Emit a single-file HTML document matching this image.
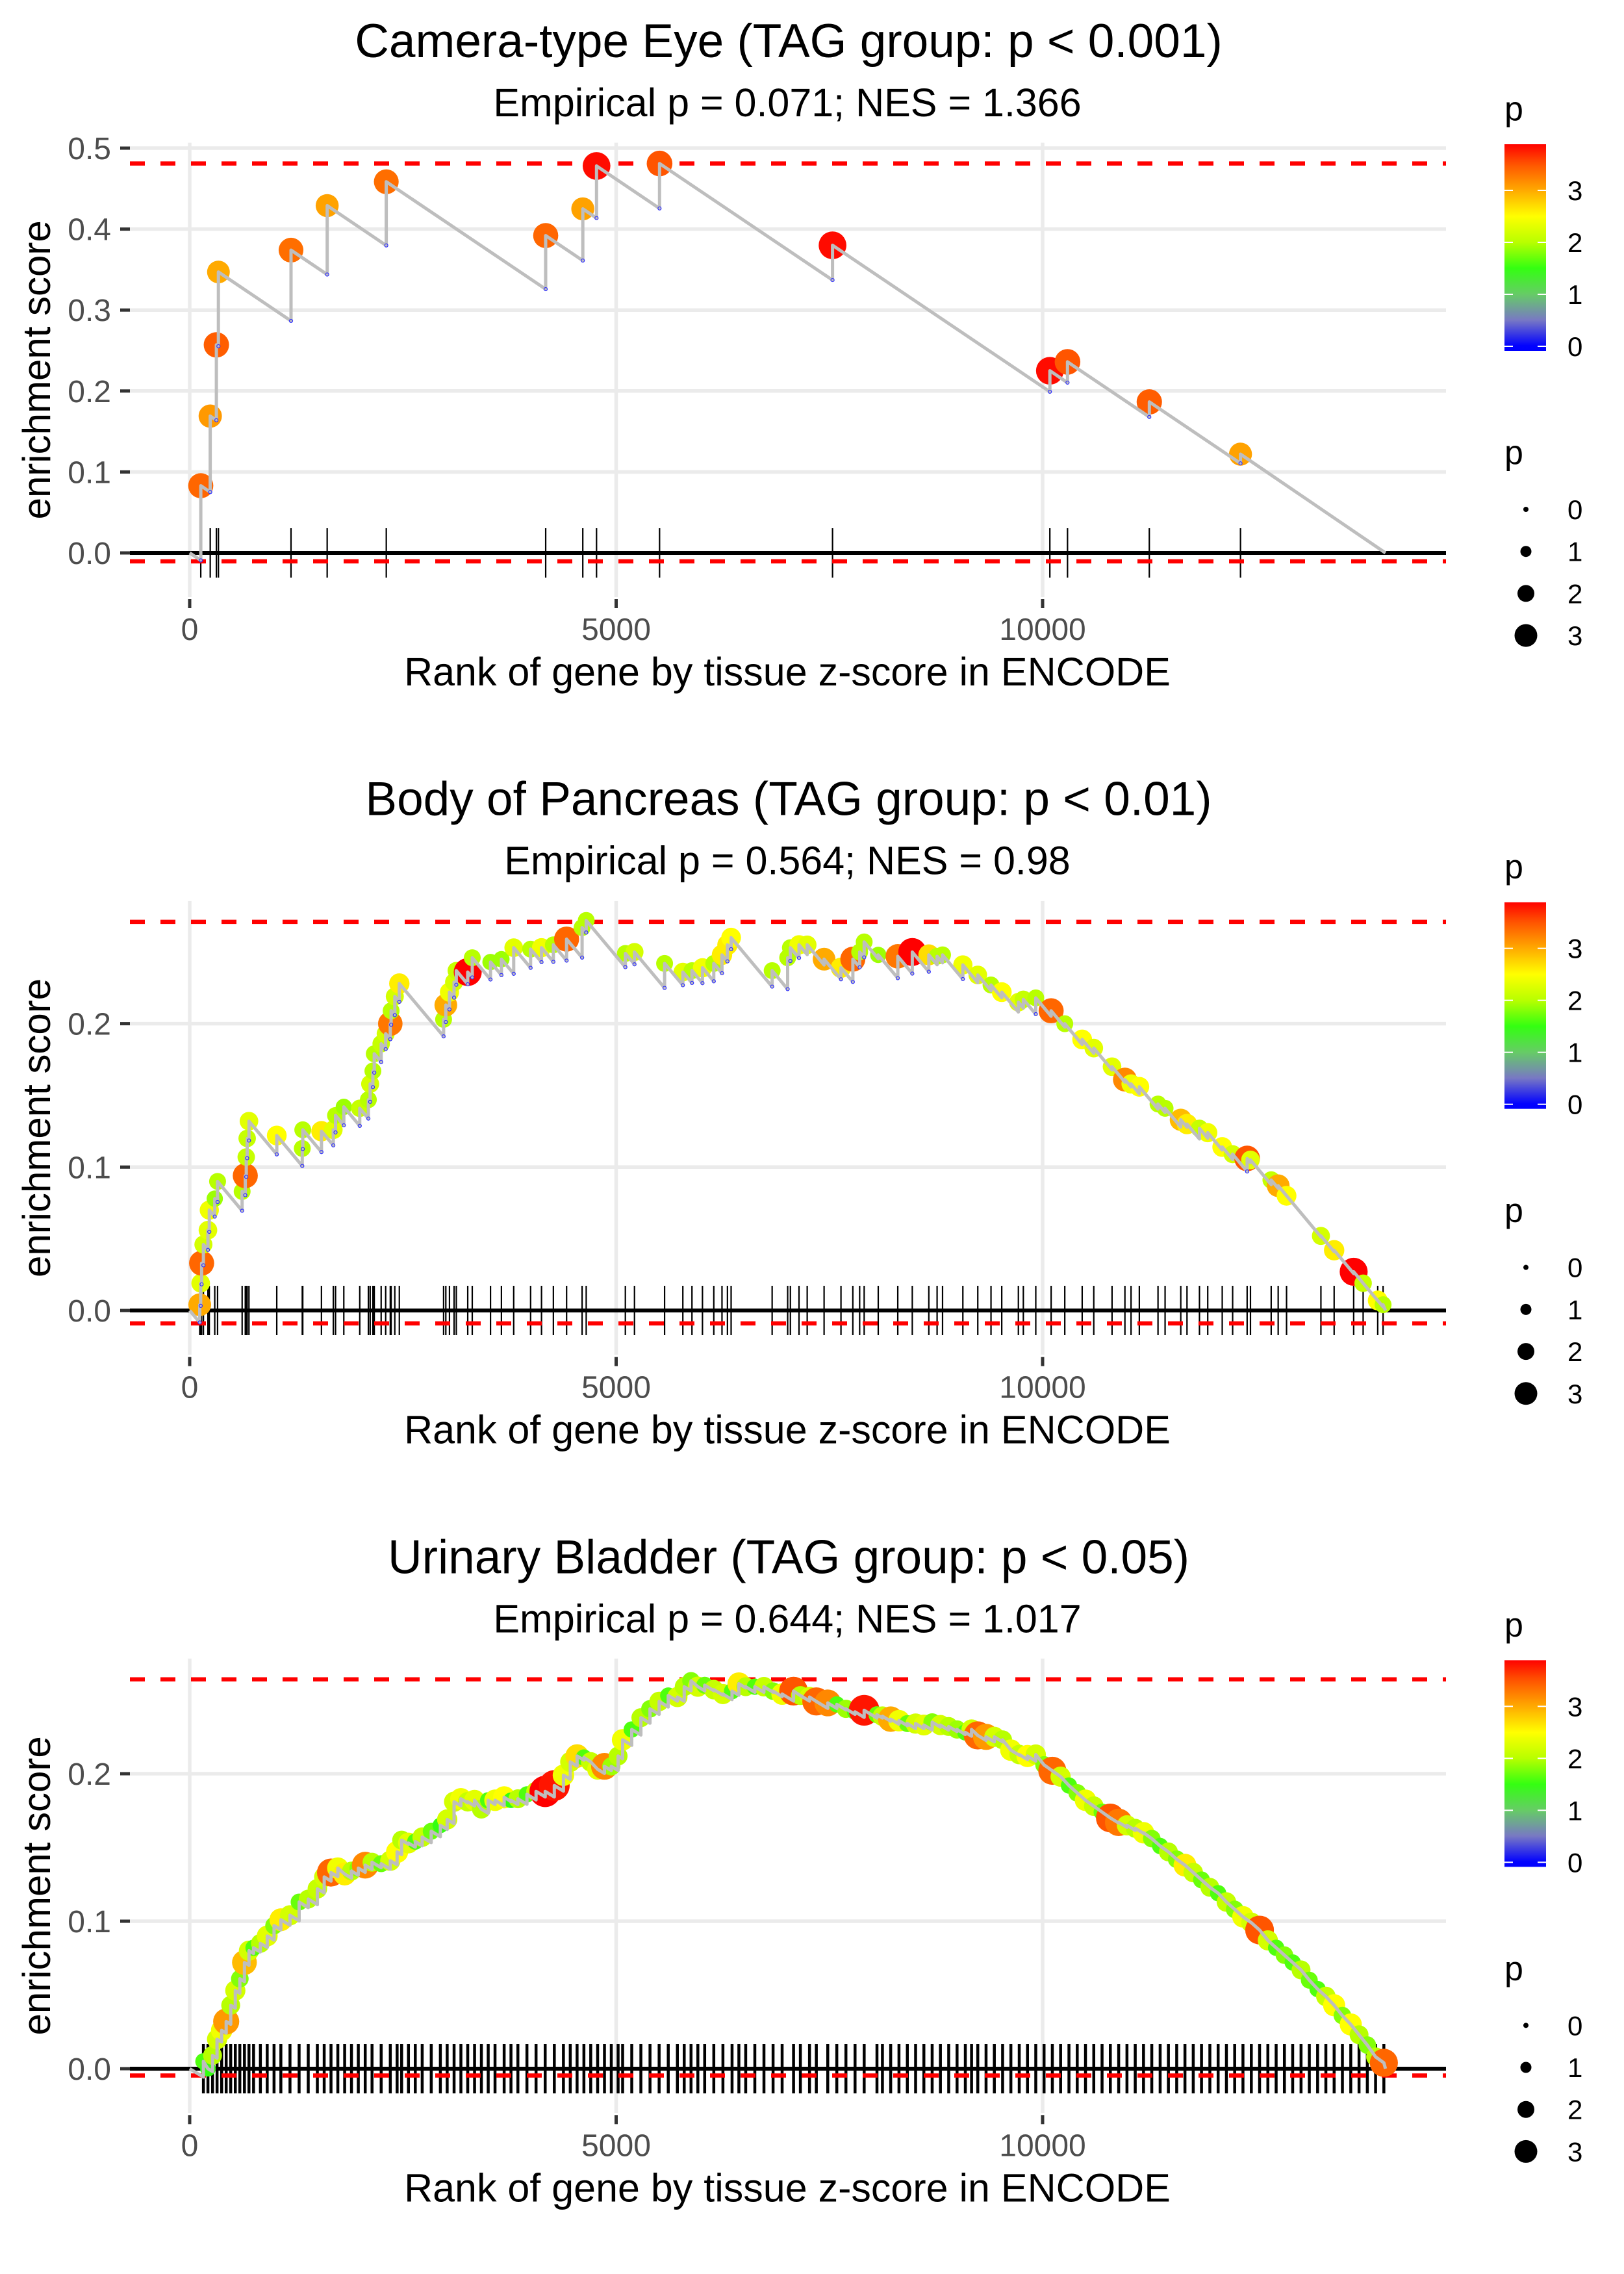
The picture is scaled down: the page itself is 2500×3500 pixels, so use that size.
<!DOCTYPE html>
<html><head><meta charset="utf-8"><style>
html,body{margin:0;padding:0;background:#fff;}
svg{display:block;font-family:"Liberation Sans",sans-serif;}
</style></head><body>
<svg id="chart" width="2500" height="3500" viewBox="0 0 2500 3500" xmlns="http://www.w3.org/2000/svg"></svg>
<script>
// ---------- data ----------
const panelTitles = ["Camera-type Eye (TAG group: p < 0.001)","Body of Pancreas (TAG group: p < 0.01)","Urinary Bladder (TAG group: p < 0.05)"];
const panelSubtitles = ["Empirical p = 0.071; NES = 1.366","Empirical p = 0.564; NES = 0.98","Empirical p = 0.644; NES = 1.017"];
const xTicks = [0,5000,10000];
const yTicks1 = [0,0.1,0.2,0.3,0.4,0.5];
const yTicks2 = [0,0.1,0.2];
const yTicks3 = [0,0.1,0.2];
const dashTop = [0.481,0.271,0.264];
const dashBottom = [-0.0104,-0.009,-0.0046];
const colorTicks = [0,1,2,3];
const sizeTicks = [0,1,2,3];
const totalGenes = 14020;
const stepDown = [7.1e-5, 7.1e-5, 3.5e-5];

const ranks1 = [130,241,313,337,1188,1612,2305,4174,4609,4770,5509,7537,10085,10292,11251,12320];
const es1 = [0.083,0.169,0.257,0.347,0.374,0.429,0.4585,0.392,0.425,0.478,0.481,0.380,0.225,0.236,0.1865,0.122];
const p1 = [3.4,3.1,3.45,3.0,3.35,3.05,3.35,3.4,3.05,3.85,3.5,3.85,3.85,3.5,3.45,3.05];

const ranks2 = [118,129,140,161,214,230,294,327,615,652,663,674,695,1021,1320,1326,1545,1684,1710,1807,1994,2095,2116,2148,2164,2245,2298,2352,2362,2405,2458,2977,3003,3046,3100,3126,3260,3313,3527,3655,3799,3997,4125,4264,4419,4601,4649,5108,5215,5568,5782,5889,6012,6145,6241,6305,6348,6829,7011,7043,7144,7240,7438,7636,7775,7855,7908,8073,8302,8472,8666,8763,8827,9065,9240,9395,9521,9716,9774,9920,10100,10260,10464,10600,10814,10965,11037,11134,11353,11436,11620,11693,11839,11936,12106,12228,12398,12437,12680,12762,12860,13263,13418,13647,13758,13929,13992];
const es2 = [0.004,0.019,0.033,0.046,0.056,0.070,0.078,0.090,0.083,0.094,0.107,0.120,0.132,0.122,0.113,0.126,0.125,0.126,0.136,0.142,0.141,0.147,0.158,0.167,0.179,0.186,0.193,0.200,0.209,0.219,0.228,0.203,0.213,0.222,0.229,0.237,0.236,0.246,0.243,0.245,0.253,0.252,0.253,0.255,0.259,0.267,0.272,0.249,0.250,0.242,0.236,0.237,0.239,0.242,0.248,0.255,0.260,0.237,0.246,0.253,0.255,0.255,0.245,0.239,0.245,0.250,0.257,0.248,0.247,0.250,0.248,0.247,0.248,0.241,0.234,0.227,0.222,0.215,0.217,0.218,0.209,0.200,0.189,0.183,0.170,0.161,0.158,0.156,0.144,0.141,0.133,0.130,0.127,0.124,0.114,0.109,0.106,0.105,0.091,0.087,0.080,0.052,0.042,0.027,0.019,0.007,0.004];
const p2 = [3.0,2.3,3.4,2.2,2.3,2.4,1.9,2.0,2.0,3.4,2.1,2.1,2.3,2.5,2.0,2.0,2.6,2.3,2.0,1.9,2.1,2.0,2.2,2.0,2.0,2.1,2.2,3.3,2.0,2.2,2.6,2.0,3.0,2.4,2.2,2.1,3.9,2.0,1.9,1.9,2.3,2.0,2.4,2.0,3.4,2.0,2.0,2.0,2.2,2.0,2.3,2.0,2.4,2.0,2.6,2.6,2.5,2.0,2.0,2.0,2.4,2.3,3.0,2.6,3.4,2.0,2.0,1.9,3.3,3.9,2.7,2.0,2.0,2.4,2.3,2.0,2.5,2.3,2.1,2.0,3.4,2.0,2.5,2.3,2.3,3.2,2.4,2.5,2.0,2.0,2.9,2.6,2.1,2.4,2.5,2.2,3.5,2.3,2.1,3.0,2.5,2.2,2.6,3.9,2.1,2.5,2.0];

const ranks3 = [161,214,268,321,375,428,481,535,588,642,695,749,829,909,989,1069,1176,1283,1390,1497,1577,1657,1737,1817,1897,1977,2058,2138,2245,2352,2432,2485,2565,2645,2726,2832,2939,3019,3100,3180,3260,3340,3420,3500,3580,3687,3767,3848,3954,4061,4168,4275,4382,4462,4542,4622,4702,4783,4863,4943,5023,5076,5183,5290,5397,5504,5611,5718,5798,5878,5958,6038,6145,6252,6359,6439,6519,6626,6733,6840,6946,7080,7160,7267,7347,7481,7587,7694,7801,7908,8058,8122,8219,8316,8414,8511,8608,8705,8802,8899,8997,9094,9167,9240,9337,9434,9531,9628,9726,9823,9920,10017,10114,10211,10309,10406,10503,10600,10697,10794,10892,10989,11086,11183,11280,11378,11475,11572,11669,11766,11863,11961,12058,12155,12252,12349,12447,12544,12641,12738,12835,12932,13030,13127,13224,13321,13418,13515,13613,13710,13807,13904,14001];
const es3 = [0.005,0.000,0.009,0.020,0.026,0.032,0.043,0.053,0.061,0.072,0.080,0.082,0.085,0.090,0.097,0.101,0.104,0.113,0.115,0.122,0.130,0.133,0.136,0.132,0.134,0.136,0.138,0.140,0.139,0.141,0.147,0.155,0.153,0.154,0.157,0.161,0.165,0.169,0.181,0.183,0.181,0.182,0.176,0.182,0.182,0.184,0.182,0.183,0.186,0.188,0.188,0.192,0.199,0.208,0.212,0.211,0.208,0.203,0.205,0.205,0.212,0.223,0.230,0.238,0.244,0.249,0.253,0.252,0.259,0.263,0.259,0.260,0.257,0.254,0.256,0.261,0.259,0.259,0.259,0.256,0.254,0.256,0.253,0.252,0.249,0.248,0.247,0.244,0.242,0.243,0.240,0.239,0.237,0.236,0.234,0.234,0.233,0.235,0.233,0.232,0.230,0.228,0.230,0.226,0.225,0.225,0.223,0.216,0.213,0.212,0.213,0.206,0.202,0.198,0.192,0.187,0.182,0.178,0.174,0.170,0.167,0.165,0.163,0.160,0.156,0.151,0.147,0.142,0.138,0.133,0.128,0.123,0.119,0.113,0.108,0.103,0.099,0.094,0.087,0.082,0.077,0.072,0.067,0.060,0.054,0.049,0.043,0.036,0.030,0.023,0.016,0.008,0.004];
const p3 = [1.6,1.5,2.0,2.2,2.4,3.1,2.0,2.2,1.8,2.9,2.2,1.6,2.0,2.3,1.8,2.6,2.2,1.7,2.0,2.1,2.2,3.4,2.4,2.6,2.0,1.8,3.2,2.0,1.7,2.2,2.5,2.0,2.3,1.6,2.1,1.7,1.5,2.2,2.2,2.4,2.1,2.3,2.0,1.6,2.4,2.5,1.5,2.0,1.6,2.1,3.9,3.8,2.4,2.2,2.7,1.6,2.1,2.3,3.2,1.9,2.0,2.4,1.6,2.0,1.8,2.1,1.6,2.2,2.0,1.8,2.2,1.7,2.1,2.2,1.6,2.6,2.0,1.6,2.1,1.8,2.4,3.5,2.0,2.2,3.4,3.2,1.6,1.9,1.6,3.8,1.7,2.1,3.0,2.4,1.7,2.2,2.3,1.8,2.2,2.0,1.9,1.6,2.2,3.4,3.1,2.2,2.0,2.4,2.1,2.5,2.2,1.8,3.4,2.2,1.6,1.8,2.4,2.1,1.7,3.5,3.3,2.2,2.0,2.4,1.8,1.6,2.0,1.8,2.6,2.1,1.7,2.0,1.6,2.1,1.8,2.4,2.2,3.5,2.2,1.6,1.8,1.6,2.0,1.7,1.6,2.1,2.5,1.8,2.5,2.0,1.8,2.0,3.4];

const colorStops = [[0,'#0000ff'],[0.5,'#7878c4'],[1.0,'#66cc66'],[1.5,'#33ff11'],[2.0,'#b8ff00'],[2.5,'#ffff00'],[3.0,'#ffaa00'],[3.5,'#ff5500'],[3.9,'#ff0000']];

// ---------- layout ----------
const NS = 'http://www.w3.org/2000/svg';
const svg = document.getElementById('chart');
const PANEL_H = 3500/3;
const X0 = 292, XK = 0.1313, LEFT = 200, RIGHT = 2226;
const zeroY = [851, 2017, 3184];
const yK = [1246, 2207, 2270];
const rugWidth = [2.2, 2.2, 4.5];
const pointScale = [1, 1, 1.12];
const yTicksAll = [yTicks1, yTicks2, yTicks3];
const ranksAll = [ranks1, ranks2, ranks3];
const esAll = [es1, es2, es3];
const pAll = [p1, p2, p3];

function el(tag, attrs, parent){ const e=document.createElementNS(NS,tag); for(const k in attrs) e.setAttribute(k,attrs[k]); (parent||svg).appendChild(e); return e; }
function hex(c){return [parseInt(c.substr(1,2),16),parseInt(c.substr(3,2),16),parseInt(c.substr(5,2),16)];}
function colorOf(v){
  if(v<=colorStops[0][0]) return colorStops[0][1];
  for(let i=1;i<colorStops.length;i++){
    if(v<=colorStops[i][0]){
      const a=colorStops[i-1], b=colorStops[i]; const t=(v-a[0])/(b[0]-a[0]);
      const ca=hex(a[1]), cb=hex(b[1]);
      return 'rgb('+ca.map((x,j)=>Math.round(x+(cb[j]-x)*t)).join(',')+')';
    }
  }
  return colorStops[colorStops.length-1][1];
}
function radiusOf(v){ return 4 + 4.5*Math.max(0,v); }
const xScale = r => X0 + r*XK;

const defs = el('defs',{});
const grad = el('linearGradient',{id:'cbar',x1:'0',y1:'1',x2:'0',y2:'0'},defs);
for(let i=0;i<=40;i++){ const v=-0.09+(3.89+0.09)*i/40; el('stop',{offset:(i/40).toFixed(3),'stop-color':colorOf(v)},grad); }

for(let pi=0; pi<3; pi++){
  const oy = pi*PANEL_H;
  const Y = v => zeroY[pi] - v*yK[pi];
  const top = Y(dashTop[pi]) - 32, bottom = zeroY[pi] + 68;
  const g = el('g',{});
  
  

  const t = el('text',{x:1214,y:oy+88,'font-size':73,'text-anchor':'middle',fill:'#000'},g);
  t.textContent = panelTitles[pi];
   
  const st = el('text',{x:1212,y:oy+179,'font-size':61,'text-anchor':'middle',fill:'#000'},g);
  st.textContent = panelSubtitles[pi];
   

  yTicksAll[pi].forEach(v=>{
    const gl = el('line',{x1:LEFT,x2:RIGHT,y1:Y(v),y2:Y(v),stroke:'#ebebeb','stroke-width':5.5},g);
     
    const tk = el('line',{x1:185,x2:200,y1:Y(v),y2:Y(v),stroke:'#333','stroke-width':5},g);
     
    const tl = el('text',{x:171,y:Y(v)+17,'font-size':48,'text-anchor':'end',fill:'#4d4d4d'},g);
    tl.textContent = v.toFixed(1);
     
  });
  xTicks.forEach(v=>{
    const gl = el('line',{x1:xScale(v),x2:xScale(v),y1:top,y2:bottom,stroke:'#ebebeb','stroke-width':5.5},g);
     
    const tk = el('line',{x1:xScale(v),x2:xScale(v),y1:oy+922,y2:oy+936,stroke:'#333','stroke-width':5},g);
     
    const tl = el('text',{x:xScale(v),y:oy+985,'font-size':48,'text-anchor':'middle',fill:'#4d4d4d'},g);
    tl.textContent = String(v);
     
  });

  const xt = el('text',{x:1212,y:oy+1055,'font-size':61,'text-anchor':'middle',fill:'#000'},g);
  xt.textContent = 'Rank of gene by tissue z-score in ENCODE';
   
  const ymid = (top+bottom)/2;
  const yt = el('text',{x:0,y:0,'font-size':60,'text-anchor':'middle',fill:'#000',transform:'translate(77,'+ymid+') rotate(-90)'},g);
  yt.textContent = 'enrichment score';
   

  const ranks = ranksAll[pi], es = esAll[pi], ps = pAll[pi];
  const n = Math.min(ranks.length, es.length, ps.length);

  for(let i=0;i<n;i++){
    const r = el('line',{x1:xScale(ranks[i]),x2:xScale(ranks[i]),y1:zeroY[pi]-38,y2:zeroY[pi]+38,stroke:'#000','stroke-width':rugWidth[pi]},g);
     
  }
  const zl = el('line',{x1:LEFT,x2:RIGHT,y1:zeroY[pi],y2:zeroY[pi],stroke:'#000','stroke-width':6},g);
   
  [dashTop[pi],dashBottom[pi]].forEach((v,k)=>{
    const dl = el('line',{x1:LEFT,x2:RIGHT,y1:Y(v),y2:Y(v),stroke:'#ff0000','stroke-width':6.5,'stroke-dasharray':'23 24'},g);
     
  });

  for(let i=0;i<n;i++){
    const c = el('circle',{cx:xScale(ranks[i]),cy:Y(es[i]),r:radiusOf(ps[i])*pointScale[pi],fill:colorOf(ps[i])},g);
     
  }
  let pts = [[0,0]]; let prevR = 0, prevE = 0; const valleys = [];
  for(let i=0;i<n;i++){
    let v = prevE - stepDown[pi]*(ranks[i]-prevR);
    if(v > es[i]) v = es[i];
    pts.push([ranks[i],v]);
    if(es[i]-v > 0.008) valleys.push([ranks[i],v]);
    pts.push([ranks[i],es[i]]);
    prevR = ranks[i]; prevE = es[i];
  }
  pts.push([totalGenes,0]);
  const pl = el('polyline',{points:pts.map(q=>xScale(q[0]).toFixed(1)+','+Y(q[1]).toFixed(1)).join(' '),fill:'none',stroke:'#bebebe','stroke-width':5,'stroke-linejoin':'round'},g);
   
  if(pi<2){
    valleys.forEach(q=>{
      const c = el('circle',{cx:xScale(q[0]),cy:Y(q[1]),r:2.5,fill:'none',stroke:'#3030ff','stroke-width':1.2},g);
       
    });
  }

  const lg = el('g',{},g);
   
  const lt = el('text',{x:2316,y:oy+185,'font-size':52,fill:'#000'},lg); lt.textContent='p';
   
  const cb = el('rect',{x:2316,y:oy+222,width:64,height:318,fill:'url(#cbar)'},lg);
   
  colorTicks.forEach(v=>{
    const yy = oy+533-80*v;
    el('line',{x1:2316,x2:2329,y1:yy,y2:yy,stroke:'#fff','stroke-width':2},lg);
    el('line',{x1:2367,x2:2380,y1:yy,y2:yy,stroke:'#fff','stroke-width':2},lg);
    const tl = el('text',{x:2413,y:yy+15,'font-size':42,fill:'#000'},lg); tl.textContent=String(v);
     
  });
  const sg = el('g',{},g);
   
  const s2 = el('text',{x:2316,y:oy+714,'font-size':52,fill:'#000'},sg); s2.textContent='p';
   
  sizeTicks.forEach((v,k)=>{
    const yy = oy+784+k*64.7;
    const c = el('circle',{cx:2349,cy:yy,r:radiusOf(v),fill:'#000'},sg);
     
    const tl = el('text',{x:2413,y:yy+15,'font-size':42,fill:'#000'},sg); tl.textContent=String(v);
     
  });
}
</script>
</body></html>
